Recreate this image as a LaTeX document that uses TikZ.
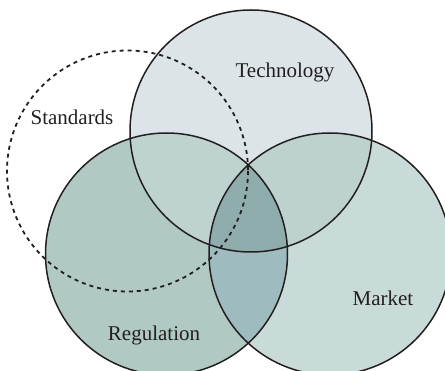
\documentclass[tikz,border=0pt]{standalone}
\usepackage{fontspec}
\setmainfont{Liberation Serif}
\definecolor{techc}{HTML}{DCE4E7}
\definecolor{regc}{HTML}{B0C9C3}
\definecolor{markc}{HTML}{C8DBD8}
\definecolor{trc}{HTML}{BED2CF}
\definecolor{tmc}{HTML}{BDD2CF}
\definecolor{rmc}{HTML}{9EBBBF}
\definecolor{allc}{HTML}{8FADAC}
\definecolor{edge}{HTML}{231F20}
\tikzset{
  ring/.style={draw=edge, line width=1.5pt},
  stdring/.style={draw=edge, line width=1.8pt, dash pattern=on 4pt off 4pt},
  lbl/.style={font=\fontsize{21}{25}\selectfont, text=edge, inner sep=0pt}
}
\begin{document}
\begin{tikzpicture}[x=1pt,y=-1pt]
\useasboundingbox (0,0) rectangle (445,371);
\clip (0,0) rectangle (445,371);
\coordinate (T) at (251,131);
\coordinate (R) at (166.5,254);
\coordinate (M) at (330,254);
\coordinate (S) at (127.5,171);
\def\rad{121}
% base fills
\fill[techc] (T) circle (\rad);
\fill[regc] (R) circle (\rad);
\fill[markc] (M) circle (\rad);
\begin{scope}
  \clip (T) circle (\rad);
  \fill[trc] (R) circle (\rad);
  \fill[tmc] (M) circle (\rad);
\end{scope}
\begin{scope}
  \clip (R) circle (\rad);
  \fill[rmc] (M) circle (\rad);
  \clip (T) circle (\rad);
  \fill[allc] (M) circle (\rad);
\end{scope}
% outlines
\draw[ring] (T) circle (\rad);
\draw[ring] (R) circle (\rad);
\draw[ring] (M) circle (\rad);
\draw[stdring] (S) circle (120.5);
% labels
\node[lbl] (tech) at (285,72) {Technology};
\node[lbl] (std) at (72,117) {Standards};
\node[lbl] (mkt) at (383,298) {Market};
\node[lbl] (reg) at (154,335) {Regulation};
\end{tikzpicture}
\end{document}
